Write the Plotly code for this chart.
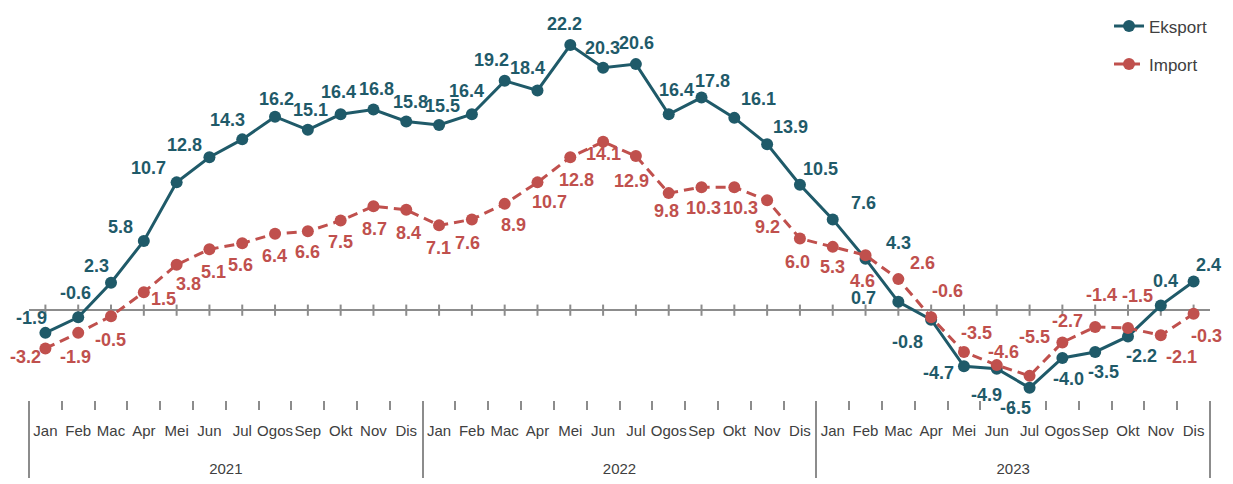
import plotly.graph_objects as go

# data
years = ["2021"] * 12 + ["2022"] * 12 + ["2023"] * 12
months = ["Jan", "Feb", "Mac", "Apr", "Mei", "Jun", "Jul", "Ogos", "Sep", "Okt", "Nov", "Dis"] * 3

eksport = [-1.9, -0.6, 2.3, 5.8, 10.7, 12.8, 14.3, 16.2, 15.1, 16.4, 16.8, 15.8,
           15.5, 16.4, 19.2, 18.4, 22.2, 20.3, 20.6, 16.4, 17.8, 16.1, 13.9, 10.5,
           7.6, 4.3, 0.7, -0.8, -4.7, -4.9, -6.5, -4.0, -3.5, -2.2, 0.4, 2.4]
imports = [-3.2, -1.9, -0.5, 1.5, 3.8, 5.1, 5.6, 6.4, 6.6, 7.5, 8.7, 8.4,
           7.1, 7.6, 8.9, 10.7, 12.8, 14.1, 12.9, 9.8, 10.3, 10.3, 9.2, 6.0,
           5.3, 4.6, 2.6, -0.6, -3.5, -4.6, -5.5, -2.7, -1.4, -1.5, -2.1, -0.3]

# pixel offsets (dx, dy down) of each data label from its point, as in the original
eksport_off = [(-14, -15), (-3, -24), (-15, -17), (-23, -14), (-28, -14), (-25, -12),
               (-15, -19), (1, -18), (3, -20), (-2, -22), (3, -21), (4, -19),
               (3, -19), (-5, -23), (-13, -21), (-10, -22), (-6, -21), (-1, -20),
               (1, -21), (8, -24), (11, -17), (24, -19), (23, -17), (21, -16),
               (31, -16), (33, -16), (-35, -4), (-24, 22), (-25, 7), (-10, 26),
               (-14, 20), (6, 21), (8, 20), (14, 20), (5, -24), (15, -17)]
import_off = [(-20, 9), (-3, 24), (-1, 24), (20, 7), (12, 19), (4, 23),
              (-2, 22), (-1, 22), (0, 21), (0, 21), (1, 23), (2, 23),
              (-1, 23), (-4, 24), (9, 21), (12, 20), (6, 23), (0, 12),
              (-4, 25), (-2, 18), (2, 21), (6, 21), (0, 27), (-2, 23),
              (0, 20), (-3, 26), (24, -16), (16, -26), (13, -19), (7, -13),
              (5, -39), (5, -21), (6, -32), (10, -32), (21, 22), (13, 22)]

BLUE = "#1F5A69"
RED = "#C0504D"
GREY = "#8C8C8C"
FONT = "Liberation Sans, Arial, sans-serif"

# leading line breaks push the axis labels down, away from the ticks
x = [["<br><br>" + y for y in years], ["<br>" + m for m in months]]

fig = go.Figure()

# small ticks across the zero line
fig.add_trace(go.Scatter(
    x=x, y=[0] * len(months), mode="markers", showlegend=False, hoverinfo="skip",
    marker=dict(symbol="line-ns-open", size=8, color=GREY, line=dict(color=GREY, width=2)),
))

fig.add_trace(go.Scatter(
    x=x, y=eksport, name="Eksport", legendgroup="a", mode="lines+markers",
    line=dict(color=BLUE, width=3), marker=dict(color=BLUE, size=12),
))
fig.add_trace(go.Scatter(
    x=x, y=imports, name="Import", legendgroup="b", mode="lines+markers",
    line=dict(color=RED, width=3, dash="10px,6px"), marker=dict(color=RED, size=12),
))

# data labels
for vals, offs, col in [(eksport, eksport_off, BLUE), (imports, import_off, RED)]:
    for i, (v, (dx, dy)) in enumerate(zip(vals, offs)):
        fig.add_annotation(
            x=i, y=v, text=f"{v:.1f}", showarrow=False,
            xshift=dx, yshift=-dy,
            font=dict(family=FONT, size=18, color=col, weight="bold"),
        )

fig.update_layout(
    width=1225, height=476,
    margin=dict(l=21, r=23, t=0, b=84),
    plot_bgcolor="white", paper_bgcolor="white",
    font=dict(family=FONT, size=15, color="#404040"),
    legend=dict(x=0.9145, y=1.012, xanchor="left", yanchor="top",
                font=dict(family=FONT, size=17, color="#404040"), tracegroupgap=13,
                bgcolor="rgba(0,0,0,0)"),
    xaxis=dict(
        type="multicategory", range=[-0.5, 35.5], showgrid=False, showline=False, zeroline=False,
        ticks="outside", ticklen=9, tickwidth=2, tickcolor=GREY, tickangle=0,
        showdividers=True, dividercolor=GREY, dividerwidth=2,
        tickfont=dict(family=FONT, size=15, color="#404040"),
    ),
    yaxis=dict(
        range=[-7.52, 24.88], showgrid=False, showticklabels=False, ticks="",
        zeroline=True, zerolinecolor=GREY, zerolinewidth=2,
    ),
)

fig.write_html("out.html")
